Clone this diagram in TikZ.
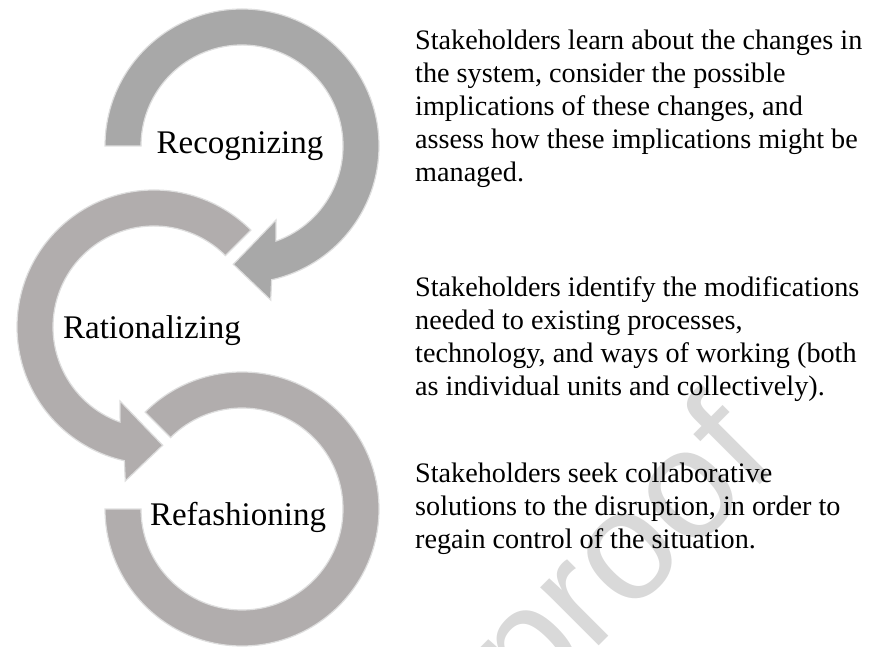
\documentclass[tikz,border=0pt]{standalone}
\usepackage{fontspec}
\setmainfont{Liberation Serif}
\newfontfamily\wmfont{Liberation Sans}
\definecolor{ringdark}{RGB}{168,168,168}
\definecolor{ringlight}{RGB}{177,173,173}
\definecolor{ringedge}{RGB}{222,222,222}
\definecolor{wmgray}{RGB}{217,217,217}
\newcommand\notebox[1]{\parbox[t]{470pt}{\raggedright #1}}
\begin{document}
\begin{tikzpicture}[x=1pt,y=1pt,
  ring/.style={line width=1.2pt, draw=ringedge, line join=miter},
  stage/.style={anchor=base, inner sep=0pt, font=\fontsize{33}{38}\selectfont},
  note/.style={anchor=base west, inner sep=0pt, font=\fontsize{28.2}{33}\selectfont},
  watermark/.style={rotate=45, anchor=base west, inner sep=0pt, text=wmgray,
    font=\wmfont\fontsize{156}{160}\selectfont},
]
\useasboundingbox (0,0) rectangle (870,646);

% faint watermark behind everything
\node[watermark] (wm) at (530,-69) {proof};

% first ring: from the left, clockwise over the top, head pointing left
\begin{scope}[shift={(242,500)}]
  \path[ring, fill=ringdark]
    (180:137) arc[start angle=180, end angle=-77.5, radius=137]
    -- (-79.44:156.65) -- (-94.2:118.6) -- (-65.32:81.44)
    -- (-70.4:101) arc[start angle=-70.4, end angle=180, radius=101]
    -- cycle;
\end{scope}

% second ring: mirrored, counter-clockwise, head pointing right
\begin{scope}[shift={(154,319)}]
  \path[ring, fill=ringlight]
    (45:137) arc[start angle=45, end angle=257.5, radius=137]
    -- (259.44:156.65) -- (274.2:118.6) -- (245.32:81.44)
    -- (250.4:101) arc[start angle=250.4, end angle=45, radius=101]
    -- cycle;
\end{scope}

% third ring: open arc without a head
\begin{scope}[shift={(242,137)}]
  \path[ring, fill=ringlight]
    (135:137) arc[start angle=135, end angle=-180, radius=137]
    -- (180:101) arc[start angle=-180, end angle=135, radius=101]
    -- cycle;
\end{scope}

% stage labels
\node[stage] (recog) at (240,492.5) {Recognizing};
\node[stage] (ratio) at (152,307.5) {Rationalizing};
\node[stage] (refash) at (238,121) {Refashioning};

% descriptions
\node[note] (d1) at (415,596) {\notebox{Stakeholders learn about the changes in\\
the system, consider the possible\\
implications of these changes, and\\
assess how these implications might be\\
managed.}};
\node[note] (d2) at (415,349) {\notebox{Stakeholders identify the modifications\\
needed to existing processes,\\
technology, and ways of working (both\\
as individual units and collectively).}};
\node[note] (d3) at (415,164) {\notebox{Stakeholders seek collaborative\\
solutions to the disruption, in order to\\
regain control of the situation.}};
\end{tikzpicture}
\end{document}
